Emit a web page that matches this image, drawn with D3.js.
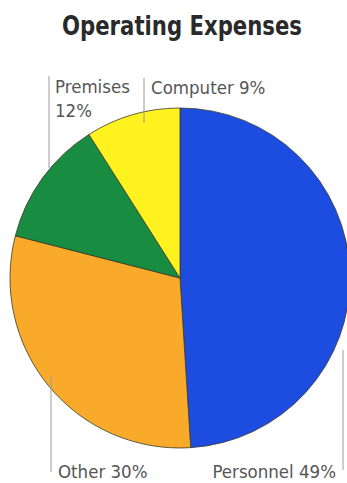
<!DOCTYPE html>
<html>
<head>
<meta charset="utf-8">
<script src="https://cdn.jsdelivr.net/npm/d3@7"></script>
<style>
  html, body { margin: 0; padding: 0; background: #fff; }
  svg { display: block; }
</style>
</head>
<body>
<div id="chart"></div>
<script>
// Daten
const categories = ["Personnel", "Other", "Premises", "Computer"];
const values = [49, 30, 12, 9];
const colors = ["#1c4de0", "#f9aa2a", "#188c40", "#fff21e"];

const width = 347;
const height = 483;
const cx = 180, cy = 278, r = 170;

const svg = d3.select("#chart")
    .append("svg")
    .attr("width", width)
    .attr("height", height);

// Titel (schmal und hoch wie im Original)
svg.append("text")
    .attr("x", 62)
    .attr("y", 35)
    .attr("font-family", "'DejaVu Sans Condensed', 'DejaVu Sans', sans-serif")
    .attr("font-stretch", "condensed")
    .attr("font-weight", "bold")
    .attr("font-size", "27px")
    .attr("textLength", 240)
    .attr("lengthAdjust", "spacingAndGlyphs")
    .attr("fill", "#2a2a2a")
    .text("Operating Expenses");

const data = categories.map((c, i) => ({ name: c, value: values[i], color: colors[i] }));

const pie = d3.pie()
    .value(d => d.value)
    .sort(null);

const arc = d3.arc()
    .innerRadius(0)
    .outerRadius(r);

const g = svg.append("g")
    .attr("transform", `translate(${cx},${cy})`);

g.selectAll("path")
    .data(pie(data))
    .enter().append("path")
    .attr("d", arc)
    .attr("fill", d => d.data.color)
    .attr("stroke", "#3a3a2a")
    .attr("stroke-width", 0.8);

// Beschriftungen mit Hilfslinien
const labels = [
    { lines: ["Premises", "12%"], x: 55, y: 93, lx: 49, y1: 76, y2: 168 },
    { lines: ["Computer 9%"], x: 151, y: 94, lx: 144, y1: 78, y2: 123 },
    { lines: ["Other 30%"], x: 58, y: 478, lx: 51, y1: 376, y2: 472 },
    { lines: ["Personnel 49%"], x: 336, y: 478, lx: 343, y1: 350, y2: 470, anchor: "end" }
];

svg.append("g")
    .selectAll("line")
    .data(labels)
    .enter().append("line")
    .attr("x1", d => d.lx)
    .attr("x2", d => d.lx)
    .attr("y1", d => d.y1)
    .attr("y2", d => d.y2)
    .attr("stroke", "#9a9a9a")
    .attr("stroke-width", 1);

const lbl = svg.append("g")
    .selectAll("text")
    .data(labels)
    .enter().append("text")
    .attr("x", d => d.x)
    .attr("y", d => d.y)
    .attr("text-anchor", d => d.anchor || "start")
    .attr("font-family", "'DejaVu Sans Condensed', 'DejaVu Sans', sans-serif")
    .attr("font-stretch", "condensed")
    .attr("font-size", "18.5px")
    .attr("fill", "#555");

lbl.each(function(d) {
    const t = d3.select(this);
    d.lines.forEach((s, i) => {
        t.append("tspan")
            .attr("x", d.x)
            .attr("dy", i === 0 ? 0 : 24)
            .text(s);
    });
});
</script>
</body>
</html>
